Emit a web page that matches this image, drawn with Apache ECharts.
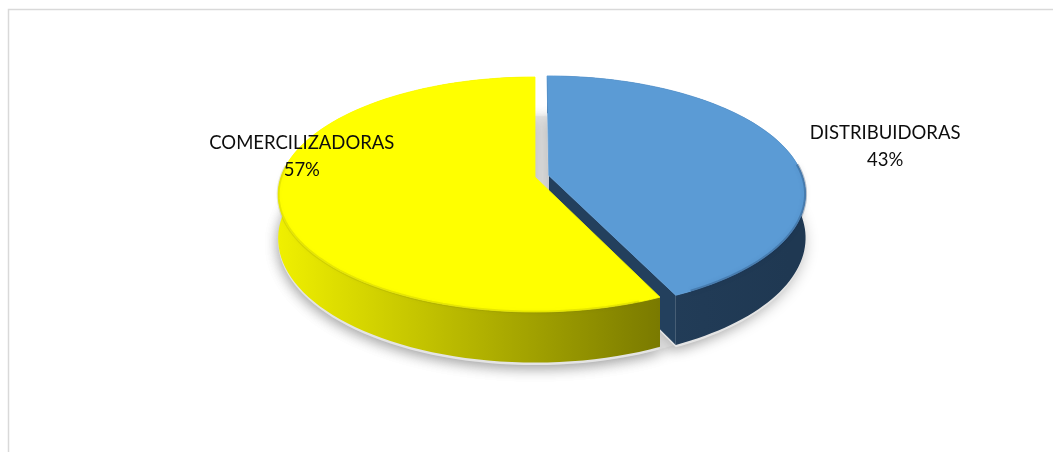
<!DOCTYPE html>
<html>
<head>
<meta charset="utf-8">
<script src="https://cdn.jsdelivr.net/npm/echarts@6/dist/echarts.min.js"></script>
<style>
  html, body { margin: 0; padding: 0; background: #ffffff; }
  #chart { width: 1053px; height: 452px; }
</style>
</head>
<body>
<div id="chart"></div>
<script>
// Slices run clockwise from twelve o'clock, in this order.
const categories = ['DISTRIBUIDORAS', 'COMERCILIZADORAS'];
const shares = [43, 57];

// Drawing style for each slice (same order as categories).
const topColors = ['#5b9bd5', '#ffff00'];
const sideStops = [['#2b4a6a', '#1f3852'], ['#f0f000', '#525200']];
const cutColors = ['#23405d', '#7a7a00'];
const rimShade = ['rgba(25,55,90,0.28)', 'rgba(120,120,0,0.16)'];
const explode = [0.056, 0];                // pull-out, as a fraction of the radius
const labelOffset = [[97, -5], [23, -46]]; // label shift from the slice's rim point

// Tilted-disc projection.
const geo = { cx: 535, cy: 177, a: 254, b: 114.9, k: 0.149, h: 43 };
function proj(X, Y, Z) {
  const d = 1 + geo.k * Y;
  return [geo.cx + geo.a * X / d, geo.cy + (-geo.b * Y + geo.h * Z) / d];
}
function ring(ox, oy, th0, th1, Z, n) {
  const pts = [];
  for (let s = 0; s <= n; s++) {
    const th = th0 + (th1 - th0) * s / n;
    pts.push(proj(ox + Math.cos(th), oy + Math.sin(th), Z));
  }
  return pts;
}

const total = shares.reduce((s, v) => s + v, 0);
let acc = 0;
const sliceData = shares.map((v, i) => {
  const start = acc;
  acc += v;
  return { name: categories[i], value: [start, acc, v] };
});

function renderSlice(params, api) {
  const i = params.dataIndex;
  const t0 = api.value(0) / total * 360;
  const t1 = api.value(1) / total * 360;
  const pct = Math.round(api.value(2) / total * 100);
  // standard angles (counter-clockwise from +x); the slice sweeps clockwise
  const th0 = (90 - t0) * Math.PI / 180;
  const th1 = (90 - t1) * Math.PI / 180;
  const mid = (th0 + th1) / 2;
  const ox = explode[i] * Math.cos(mid);
  const oy = explode[i] * Math.sin(mid);

  const n = 90;
  const topArc = ring(ox, oy, th0, th1, 0, n);
  const botArc = ring(ox, oy, th0, th1, 1, n);
  const cTop = proj(ox, oy, 0);
  const cBot = proj(ox, oy, 1);

  const children = [];
  const shadowStyle = { fill: '#e4e4e4', shadowBlur: 14, shadowColor: 'rgba(0,0,0,0.22)', shadowOffsetY: 3 };
  // ground shadow of the whole disc (drawn once) and of this slice
  if (i === 0) {
    children.push({
      type: 'polygon', z2: 0,
      shape: { points: ring(0, 0, 0, Math.PI * 2, 1.05, 180) },
      style: shadowStyle
    });
  }
  children.push({
    type: 'polygon', z2: 0,
    shape: { points: [proj(ox, oy, 1.05)].concat(ring(ox, oy, th0, th1, 1.05, n)) },
    style: shadowStyle
  });

  const sideZ = explode[i] > 0 ? 1 : 2;
  // cut faces that turn toward the viewer
  const faces = [
    { th: th0, nx: -Math.sin(th0), ny: Math.cos(th0) },
    { th: th1, nx: Math.sin(th1), ny: -Math.cos(th1) }
  ];
  faces.forEach((f) => {
    if (f.ny > -0.05) return;
    const e0 = proj(ox + Math.cos(f.th), oy + Math.sin(f.th), 0);
    const e1 = proj(ox + Math.cos(f.th), oy + Math.sin(f.th), 1);
    children.push({
      type: 'polygon', z2: sideZ,
      shape: { points: [cTop, e0, e1, cBot] },
      style: { fill: cutColors[i] }
    });
  });
  // outer wall
  children.push({
    type: 'polygon', z2: sideZ + 0.5,
    shape: { points: topArc.concat(botArc.slice().reverse()) },
    style: {
      fill: {
        type: 'linear', global: true,
        x: geo.cx - geo.a - 4, y: 0, x2: geo.cx + geo.a, y2: 0,
        colorStops: [
          { offset: 0, color: sideStops[i][0] },
          { offset: 1, color: sideStops[i][1] }
        ]
      }
    }
  });
  // top face
  children.push({
    type: 'polygon', z2: 10,
    shape: { points: [cTop].concat(topArc) },
    style: { fill: topColors[i], stroke: topColors[i], lineWidth: 0.8 }
  });
  // soft bevel along the front rim of the top face
  const frontRim = [];
  for (let s = 2; s <= n - 2; s++) {
    const th = th0 + (th1 - th0) * s / n;
    if (Math.sin(th) < 0.12) frontRim.push(topArc[s]);
  }
  if (frontRim.length > 1) {
    children.push({
      type: 'polyline', z2: 11,
      shape: { points: frontRim },
      style: { fill: null, stroke: rimShade[i], lineWidth: 3, shadowBlur: 5, shadowColor: rimShade[i] }
    });
  }
  // label: category name and its share
  const rim = proj(ox + Math.cos(mid), oy + Math.sin(mid), 0);
  children.push({
    type: 'text', z2: 20,
    x: rim[0] + labelOffset[i][0],
    y: rim[1] + labelOffset[i][1],
    style: {
      text: categories[i] + '\n' + pct + '%',
      fill: '#0d0d0d',
      font: '18.5px Lato, "Noto Sans", sans-serif',
      align: 'center',
      verticalAlign: 'middle',
      lineHeight: 27
    }
  });
  return { type: 'group', children };
}

const chart = echarts.init(document.getElementById('chart'), null, { renderer: 'canvas' });
chart.setOption({
  backgroundColor: '#ffffff',
  animation: false,
  graphic: [{
    type: 'rect', z: -10,
    shape: { x: 8.5, y: 9.5, width: 1200, height: 600 },
    style: { fill: 'none', stroke: '#d9d9d9', lineWidth: 1.5 }
  }],
  series: [{
    type: 'custom',
    coordinateSystem: 'none',
    renderItem: renderSlice,
    data: sliceData
  }]
});
</script>
</body>
</html>
